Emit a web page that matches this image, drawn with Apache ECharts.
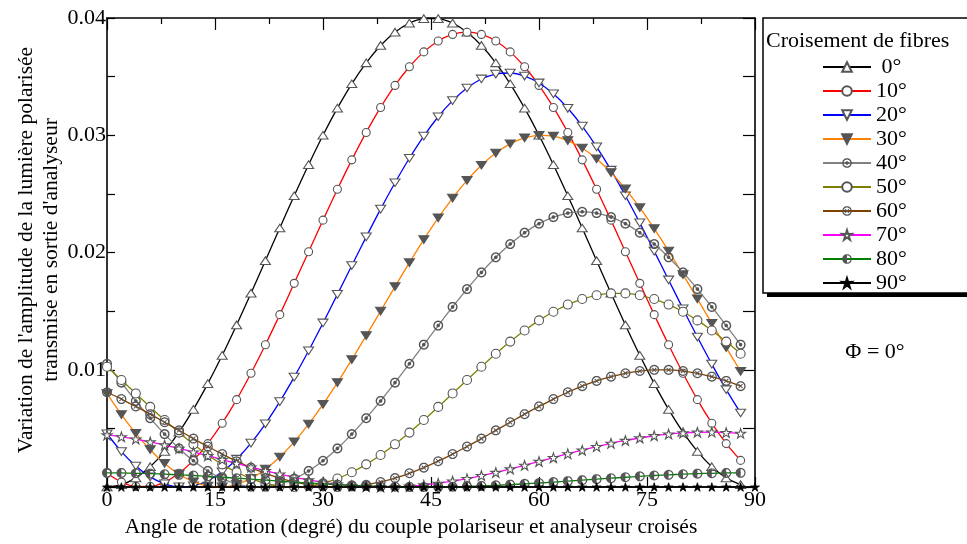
<!DOCTYPE html>
<html><head><meta charset="utf-8">
<script src="https://cdn.jsdelivr.net/npm/echarts@6/dist/echarts.min.js"></script>
<style>html,body{margin:0;padding:0;background:#fff}#c{width:967px;height:544px}</style>
</head><body><div id="c"></div>
<script>
const angles = [0,2,4,6,8,10,12,14,16,18,20,22,24,26,28,30,32,34,36,38,40,42,44,46,48,50,52,54,56,58,60,62,64,66,68,70,72,74,76,78,80,82,84,86,88];
const angles90 = [0,2,4,6,8,10,12,14,16,18,20,22,24,26,28,30,32,34,36,38,40,42,44,46,48,50,52,54,56,58,60,62,64,66,68,70,72,74,76,78,80,82,84,86,88,90];
const seriesNames = ['0°','10°','20°','30°','40°','50°','60°','70°','80°','90°'];
const xTicks = [0,15,30,45,60,75,90];
const yTicks = [0.01,0.02,0.03,0.04];

const s0 = [0,0.0002,0.00078,0.00173,0.00304,0.00468,0.00662,0.00882,0.01123,0.01382,0.01653,0.0193,0.02209,0.02484,0.02749,0.03,0.03231,0.03439,0.03618,0.03766,0.03879,0.03956,0.03995,0.03995,0.03956,0.03879,0.03766,0.03618,0.03439,0.03231,0.03,0.02749,0.02484,0.02209,0.0193,0.01653,0.01382,0.01123,0.00882,0.00662,0.00468,0.00304,0.00173,0.00078,0.0002];
const s10 = [0.00117,0.00042,0.00005,0.00005,0.00042,0.00117,0.00227,0.0037,0.00544,0.00745,0.0097,0.01213,0.0147,0.01737,0.02007,0.02276,0.02539,0.0279,0.03024,0.03237,0.03425,0.03584,0.03711,0.03804,0.0386,0.03879,0.0386,0.03804,0.03711,0.03584,0.03425,0.03237,0.03024,0.0279,0.02539,0.02276,0.02007,0.01737,0.0147,0.01213,0.0097,0.00745,0.00544,0.0037,0.00227];
const s20 = [0.00454,0.00302,0.00179,0.00086,0.00027,0.00001,0.0001,0.00053,0.00129,0.00237,0.00374,0.00539,0.00728,0.00937,0.01162,0.01399,0.01643,0.01889,0.02133,0.0237,0.02595,0.02804,0.02993,0.03158,0.03295,0.03403,0.0348,0.03522,0.03531,0.03505,0.03446,0.03353,0.0323,0.03078,0.02901,0.02702,0.02484,0.02253,0.02012,0.01766,0.0152,0.01279,0.01048,0.0083,0.00631];
const s30 = [0.00796,0.00618,0.00458,0.00318,0.00201,0.00109,0.00045,0.00008,0.00001,0.00023,0.00073,0.00152,0.00256,0.00385,0.00536,0.00705,0.0089,0.01087,0.01291,0.015,0.01709,0.01913,0.0211,0.02295,0.02464,0.02615,0.02744,0.02848,0.02927,0.02977,0.02999,0.02992,0.02955,0.02891,0.02799,0.02682,0.02542,0.02382,0.02204,0.02013,0.01812,0.01605,0.01395,0.01188,0.00987];
const s40 = [0.01051,0.0089,0.00734,0.00587,0.00451,0.00329,0.00224,0.00137,0.00071,0.00026,0.00003,0.00003,0.00026,0.00071,0.00137,0.00224,0.00329,0.00451,0.00587,0.00734,0.0089,0.01051,0.01214,0.01377,0.01536,0.01688,0.0183,0.01959,0.02072,0.02169,0.02246,0.02302,0.02336,0.02347,0.02336,0.02302,0.02246,0.02169,0.02072,0.01959,0.0183,0.01688,0.01536,0.01377,0.01214];
const s50 = [0.01026,0.00913,0.00798,0.00683,0.00571,0.00464,0.00364,0.00273,0.00193,0.00126,0.00072,0.00032,0.00008,0,0.00008,0.00032,0.00072,0.00126,0.00193,0.00273,0.00364,0.00464,0.00571,0.00683,0.00798,0.00913,0.01026,0.01136,0.0124,0.01335,0.01421,0.01495,0.01556,0.01603,0.01635,0.01651,0.01651,0.01635,0.01603,0.01556,0.01495,0.01421,0.01335,0.0124,0.01136];
const s60 = [0.00808,0.0075,0.00687,0.00621,0.00552,0.00483,0.00413,0.00345,0.00281,0.0022,0.00165,0.00117,0.00076,0.00043,0.00019,0.00005,0,0.00005,0.00019,0.00043,0.00076,0.00117,0.00165,0.0022,0.00281,0.00345,0.00413,0.00483,0.00552,0.00621,0.00687,0.0075,0.00808,0.0086,0.00905,0.00941,0.0097,0.00989,0.00999,0.00999,0.00989,0.0097,0.00941,0.00905,0.0086];
const s70 = [0.00444,0.00428,0.00408,0.00384,0.00358,0.00329,0.00298,0.00267,0.00234,0.00201,0.0017,0.00139,0.0011,0.00084,0.0006,0.0004,0.00024,0.00012,0.00004,0,0.00001,0.00007,0.00017,0.00031,0.0005,0.00071,0.00097,0.00124,0.00154,0.00185,0.00218,0.0025,0.00283,0.00314,0.00344,0.00372,0.00397,0.00418,0.00437,0.00451,0.00461,0.00467,0.00468,0.00464,0.00457];
const s80 = [0.00121,0.0012,0.00117,0.00114,0.00109,0.00104,0.00098,0.00091,0.00083,0.00075,0.00067,0.00058,0.0005,0.00042,0.00034,0.00027,0.0002,0.00014,0.00009,0.00005,0.00002,0.00001,0,0.00001,0.00002,0.00005,0.00009,0.00014,0.0002,0.00027,0.00034,0.00042,0.0005,0.00058,0.00067,0.00075,0.00083,0.00091,0.00098,0.00104,0.00109,0.00114,0.00117,0.0012,0.00121];
const s90 = [0,0,0,0,0,0,0,0,0,0,0,0,0,0,0,0,0,0,0,0,0,0,0,0,0,0,0,0,0,0,0,0,0,0,0,0,0,0,0,0,0,0,0,0,0,0];

const FONT = '"Liberation Serif","Times New Roman",serif';
const MK = '#555';

// marker glyph builders (shape only)
function ring(r, cw) {
  const n = 24, pts = [];
  for (let i = 0; i < n; i++) {
    const a = (cw ? 1 : -1) * 2 * Math.PI * i / n;
    pts.push((10 + r * Math.cos(a)).toFixed(2) + ',' + (10 + r * Math.sin(a)).toFixed(2));
  }
  return 'M' + pts.join('L') + 'Z';
}
const TRI_UP = 'path://M10,0L20,17L0,17Z';
const TRI_DN = 'path://M0,0L20,0L10,17Z';
const STAR = 'path://M50,0L61.17,34.63L97.55,34.55L68.07,55.87L79.39,90.45L50,69L20.61,90.45L31.93,55.87L2.45,34.55L38.83,34.63Z';
const TARGET = 'path://' + ring(10, true) + ring(7.2, false) + ring(3.6, true);
const OTIMES = 'path://' + ring(10, true) + ring(7.4, false) + 'M5.2,6.6L6.6,5.2L14.8,13.4L13.4,14.8Z M6.6,14.8L5.2,13.4L13.4,5.2L14.8,6.6Z';
const HALF = 'path://' + ring(10, true) + ring(7.6, false) + 'M10,2.4' + (() => { let s=''; for (let i=1;i<=12;i++){const a=-Math.PI/2 - Math.PI*i/12; s+='L'+(10+7.6*Math.cos(a)).toFixed(2)+','+(10+7.6*Math.sin(a)).toFixed(2);} return s; })() + 'Z';

const styles = [
  {line:'#000000', symbol:TRI_UP, size:[10,9], fill:'#fff', bw:1.1},
  {line:'#ff0000', symbol:'circle', size:8, fill:'#fff', bw:1.1},
  {line:'#0000ff', symbol:TRI_DN, size:[10,9], fill:'#fff', bw:1.1},
  {line:'#ff8000', symbol:TRI_DN, size:[10,9], fill:MK, bw:1.1},
  {line:'#808080', symbol:TARGET, size:10, fill:MK, bw:0},
  {line:'#808000', symbol:'circle', size:9, fill:'#fff', bw:1.1},
  {line:'#804000', symbol:OTIMES, size:10, fill:MK, bw:0},
  {line:'#ff00ff', symbol:STAR, size:10, fill:'#fff', bw:1.1},
  {line:'#008000', symbol:HALF, size:10, fill:MK, bw:0},
  {line:'#000000', symbol:STAR, size:9, fill:'#000', bw:0.8}
];
const values = [s0,s10,s20,s30,s40,s50,s60,s70,s80,s90];

const series = values.map((vals, i) => {
  const xs = (vals.length === angles90.length) ? angles90 : angles;
  const st = styles[i];
  return {
    name: seriesNames[i],
    type: 'line',
    data: vals.map((v, j) => [xs[j], v]),
    smooth: 0.3,
    clip: false,
    symbol: st.symbol,
    symbolSize: st.size,
    symbolKeepAspect: true,
    showAllSymbol: true,
    lineStyle: {color: st.line, width: 1.3},
    itemStyle: {color: st.fill, borderColor: i === 9 ? '#000' : MK, borderWidth: st.bw},
    emphasis: {disabled: true},
    z: 2 + i
  };
});

const chart = echarts.init(document.getElementById('c'), null, {renderer: 'canvas'});
chart.setOption({
  animation: false,
  backgroundColor: '#fff',
  grid: {left: 107, right: 212, top: 18, bottom: 57},
  xAxis: [
    {type: 'value', position: 'bottom', min: 0, max: 90, interval: 15,
     axisLine: {onZero: false, lineStyle: {color: '#000', width: 1.6}},
     axisTick: {inside: true, length: 10, lineStyle: {color: '#000', width: 1.2}},
     axisLabel: {color: '#000', fontFamily: FONT, fontSize: 22, margin: 2,
       formatter: v => xTicks.includes(v) ? String(v) : ''},
     splitLine: {show: false}},
    {type: 'value', position: 'top', min: 0, max: 90, interval: 15,
     axisLine: {onZero: false, lineStyle: {color: '#000', width: 1.6}},
     axisTick: {inside: true, length: 12, lineStyle: {color: '#000', width: 1.2}},
     minorTick: {show: true, splitNumber: 2, length: 6, lineStyle: {color: '#000', width: 1.2}},
     axisLabel: {show: false}, splitLine: {show: false}}
  ],
  yAxis: [
    {type: 'value', position: 'left', min: 0, max: 0.04, interval: 0.005,
     axisLine: {onZero: false, lineStyle: {color: '#000', width: 1.6}},
     axisTick: {inside: true, length: 8, lineStyle: {color: '#000', width: 1.2}},
     axisLabel: {color: '#000', fontFamily: FONT, fontSize: 22, margin: 1,
       formatter: v => {
         const t = yTicks.find(y => Math.abs(y - v) < 1e-9);
         return t === undefined ? '' : String(t);
       }},
     splitLine: {show: false}},
    {type: 'value', position: 'right', min: 0, max: 0.04, interval: 0.005,
     axisLine: {onZero: false, lineStyle: {color: '#000', width: 1.6}},
     axisTick: {inside: true, length: 12, lineStyle: {color: '#000', width: 1.2}},
     axisLabel: {show: false}, splitLine: {show: false}}
  ],
  legend: {
    orient: 'vertical', left: 817, top: 51,
    itemWidth: 48, itemHeight: 12, itemGap: 2,
    data: seriesNames,
    formatter: n => n === '0°' ? ' 0°' : n,
    textStyle: {fontFamily: FONT, fontSize: 22, color: '#000', lineHeight: 22},
    selectedMode: false
  },
  graphic: [
    {type: 'rect', z: 0, shape: {x: 763, y: 18, width: 240, height: 275},
     style: {fill: 'none', stroke: '#000', lineWidth: 1.5}},
    {type: 'rect', z: 0, shape: {x: 767, y: 293, width: 240, height: 4},
     style: {fill: '#000'}},
    {type: 'text', x: 766, y: 41,
     style: {text: 'Croisement de fibres', font: '22px ' + FONT, fill: '#000',
       textAlign: 'left', textVerticalAlign: 'middle'}},
    {type: 'text', x: 875, y: 352,
     style: {text: 'Φ = 0°', font: '22px ' + FONT, fill: '#000',
       textAlign: 'center', textVerticalAlign: 'middle'}},
    {type: 'text', x: 411, y: 527,
     style: {text: 'Angle de rotation (degré) du couple polariseur et analyseur croisés',
       font: '21.5px ' + FONT, fill: '#000', textAlign: 'center', textVerticalAlign: 'middle'}},
    {type: 'text', x: 39, y: 250, rotation: Math.PI / 2,
     style: {text: "Variation de l'amplitude de la lumière polarisée\ntransmise en sortie d'analyseur",
       font: '21.5px ' + FONT, fill: '#000', lineHeight: 25,
       textAlign: 'center', textVerticalAlign: 'middle'}}
  ],
  series: series
});
</script>
</body></html>
